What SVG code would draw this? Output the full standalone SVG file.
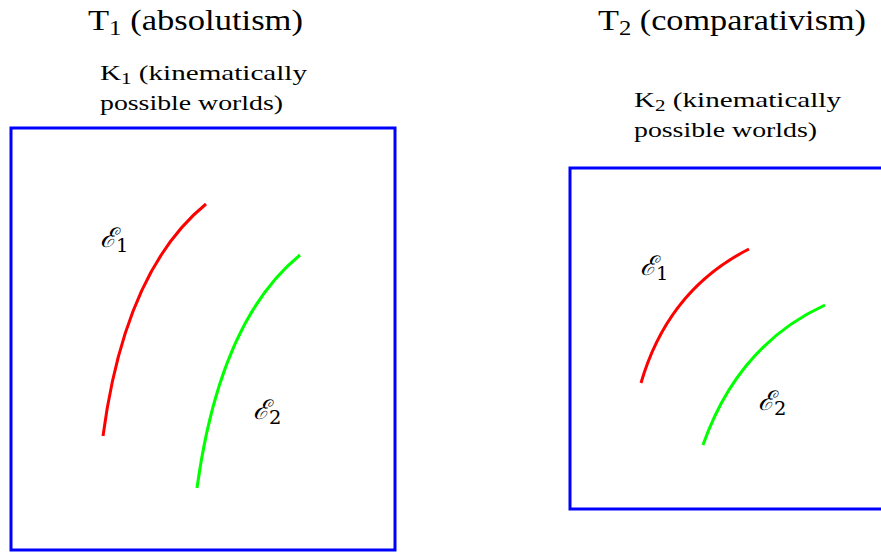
<svg xmlns="http://www.w3.org/2000/svg" width="881" height="554" viewBox="0 0 881 554">
<style>
.t{font-family:"Liberation Serif","DejaVu Serif",serif;fill:#000}
.title{font-size:29px}
.lab{font-size:22px}
.e{font-family:"DejaVu Serif","Liberation Serif",serif;font-style:italic;font-size:27px}
.sub{font-size:0.72em;font-style:normal}
.box{fill:none;stroke:#0000ff;stroke-width:3}
.c{fill:none;stroke-width:3;stroke-linecap:butt}
.red{stroke:#ff0000}
.green{stroke:#00ff00}
</style>
<rect width="881" height="554" fill="#fff"/>
<g id="T1">
<text class="t title" x="88" y="30" textLength="215" lengthAdjust="spacingAndGlyphs">T<tspan class="sub" dy="5">1</tspan><tspan dy="-5"> (absolutism)</tspan></text>
</g>
<g id="K1">
<text class="t lab" x="100" y="80" textLength="207" lengthAdjust="spacingAndGlyphs">K<tspan class="sub" dy="4">1</tspan><tspan dy="-4"> (kinematically</tspan></text>
<text class="t lab" x="100" y="110" textLength="183" lengthAdjust="spacingAndGlyphs">possible worlds)</text>
<rect class="box" x="11" y="128" width="384" height="422"/>
</g>
<g id="T2">
<text class="t title" x="598" y="30" textLength="268" lengthAdjust="spacingAndGlyphs">T<tspan class="sub" dy="5">2</tspan><tspan dy="-5"> (comparativism)</tspan></text>
</g>
<g id="K2">
<text class="t lab" x="634" y="107" textLength="207" lengthAdjust="spacingAndGlyphs">K<tspan class="sub" dy="4">2</tspan><tspan dy="-4"> (kinematically</tspan></text>
<text class="t lab" x="634" y="137" textLength="183" lengthAdjust="spacingAndGlyphs">possible worlds)</text>
<rect class="box" x="570" y="168" width="320" height="341"/>
</g>
<g id="curves">
<g id="E1a"><path class="c red" d="M103,436 Q125,270 206,204"/>
<text class="e" x="100" y="247">ℰ<tspan class="sub" dy="5">1</tspan></text></g>
<g id="E2a"><path class="c green" d="M197,488 Q220,320 300,255"/>
<text class="e" x="253" y="419">ℰ<tspan class="sub" dy="5">2</tspan></text></g>
<g id="E1b"><path class="c red" d="M641,383 Q668,290 749,249"/>
<text class="e" x="640" y="275">ℰ<tspan class="sub" dy="5">1</tspan></text></g>
<g id="E2b"><path class="c green" d="M703,445 Q738,345 825,305"/>
<text class="e" x="758" y="410">ℰ<tspan class="sub" dy="5">2</tspan></text></g>
</g>
</svg>
